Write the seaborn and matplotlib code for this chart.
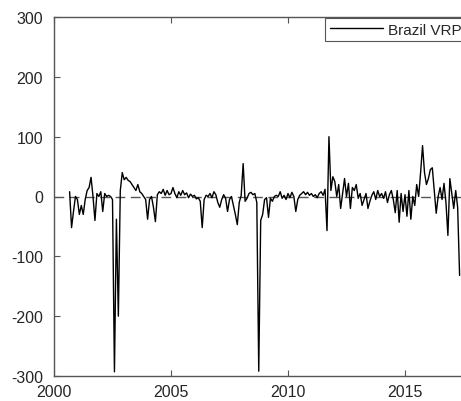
import numpy as np
import pandas as pd
import matplotlib
matplotlib.use("Agg")
import matplotlib.pyplot as plt
import seaborn as sns

# Monthly Brazil variance risk premium, Sep 2000 - May 2017
start_year = 2000 + 8 / 12
vrp = [
    8, -52, -25, 0, -5, -30, -15, -30, -5, 10, 15, 32, 0, -40, 5, 0, 8, -25, 5, 0,
    2, 0, -5, -293, -38, -200, 10, 40, 28, 32, 27, 25, 20, 15, 10, 20, 8, 5, 0, -5,
    -38, -5, 0, -18, -42, 3, 8, 5, 12, 2, 10, 3, 5, 15, 5, -2, 8, 2, 10, 3,
    6, -2, 4, 0, 2, -4, -2, -8, -52, -5, 2, 0, 5, -2, 8, 3, -10, -18, -5, 3,
    -3, -25, -5, 0, -15, -30, -47, -10, 2, 55, -8, -3, 5, 7, 3, 5, -10, -292, -40, -30,
    -5, -2, -35, -3, -8, 0, 2, 0, 8, -3, 2, -5, 5, -2, 7, 0, -25, -5, 2, 5,
    8, 3, 7, 2, 5, 0, 3, -2, 5, 8, 2, 12, -57, 100, 10, 33, 25, 0, 20, -20,
    5, 30, 0, 22, -20, 15, 10, 20, -3, 5, -15, -5, 5, -20, -8, 2, 8, -5, 10, 0,
    5, -3, 8, -10, 3, 10, -5, -27, 10, -43, 5, -25, 3, -33, 10, -38, 0, -15, 20, 0,
    40, 85, 40, 20, 30, 45, 48, 10, -28, 0, 15, -5, 22, -10, -65, 30, 5, -20, 10, -18,
    -132,
]
year = [start_year + i / 12 for i in range(len(vrp))]
df = pd.DataFrame({"year": year, "vrp": vrp})

y_ticks = [-300, -200, -100, 0, 100, 200, 300]
x_ticks = [2000, 2005, 2010, 2015]

sns.set_style("white")
plt.rcParams["font.family"] = ["Liberation Sans", "DejaVu Sans"]
plt.rcParams["axes.unicode_minus"] = False

W, H = 461, 402
fig = plt.figure(figsize=(W / 100, H / 100), dpi=100)
left, top, bottom = 54, 18, 377
ax = fig.add_axes([left / W, 1 - bottom / H, 1 - left / W, (bottom - top) / H])

# zero reference line
ax.axhline(0, color="#555555", lw=1.0, ls=(0, (7, 4)), zorder=1)

sns.lineplot(data=df, x="year", y="vrp", color="black", lw=1.0,
             label="Brazil VRP", ax=ax, zorder=2)

ax.set_xlim(2000, 2000 + (W - left) / 23.4)
ax.set_ylim(-300, 300)
ax.set_xticks(x_ticks)
ax.set_yticks(y_ticks)
ax.set_xlabel("")
ax.set_ylabel("")

axis_col = "#555555"
for s in ["left", "bottom", "top"]:
    ax.spines[s].set_color(axis_col)
    ax.spines[s].set_linewidth(1.0)
ax.spines["right"].set_visible(False)
ax.tick_params(axis="both", direction="in", length=4, width=0.8, color=axis_col,
               labelsize=11.5, labelcolor="#262626", top=True, left=True, bottom=True)
ax.tick_params(axis="x", pad=6)
ax.tick_params(axis="y", pad=8)

leg = ax.legend(loc="upper left", bbox_to_anchor=(325 / W, 1 - 19 / H),
                bbox_transform=fig.transFigure, borderaxespad=0, borderpad=0.3,
                handlelength=3.5, handletextpad=0.35, fontsize=11,
                frameon=True, fancybox=False, framealpha=1)
leg.get_frame().set_edgecolor(axis_col)
leg.get_frame().set_linewidth(0.8)

fig.savefig("out.png", dpi=100)
